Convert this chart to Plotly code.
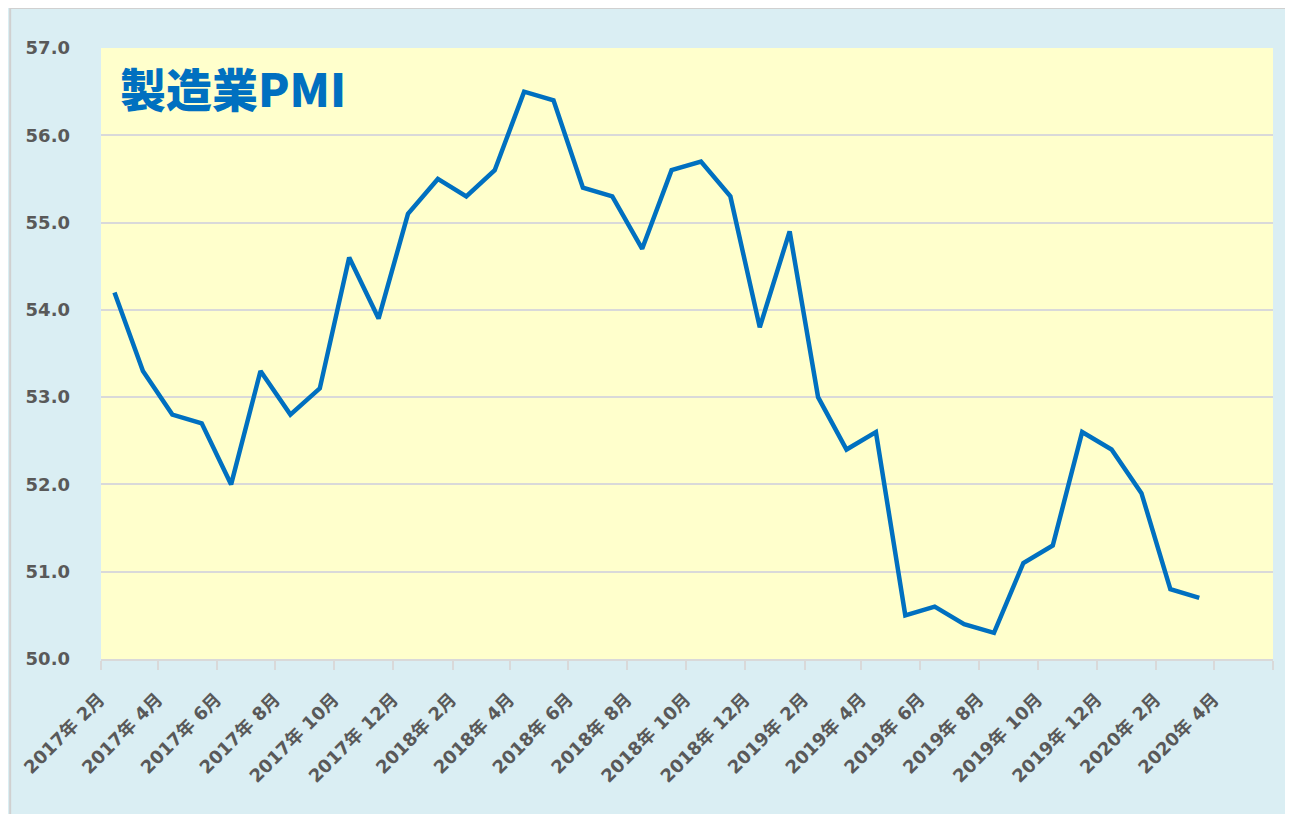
import plotly.graph_objects as go

months = [
    "2017-02", "2017-03", "2017-04", "2017-05", "2017-06", "2017-07", "2017-08",
    "2017-09", "2017-10", "2017-11", "2017-12", "2018-01", "2018-02", "2018-03",
    "2018-04", "2018-05", "2018-06", "2018-07", "2018-08", "2018-09", "2018-10",
    "2018-11", "2018-12", "2019-01", "2019-02", "2019-03", "2019-04", "2019-05",
    "2019-06", "2019-07", "2019-08", "2019-09", "2019-10", "2019-11", "2019-12",
    "2020-01", "2020-02", "2020-03",
]
pmi = [
    54.2, 53.3, 52.8, 52.7, 52.0, 53.3, 52.8,
    53.1, 54.6, 53.9, 55.1, 55.5, 55.3, 55.6,
    56.5, 56.4, 55.4, 55.3, 54.7, 55.6, 55.7,
    55.3, 53.8, 54.9, 53.0, 52.4, 52.6, 50.5,
    50.6, 50.4, 50.3, 51.1, 51.3, 52.6, 52.4,
    51.9, 50.8, 50.7,
]
title_text = "製造業PMI"

W, H = 1285, 806
L, R, T, B = 91, 20, 40, 155
pw, ph = W - L - R, H - T - B

fig = go.Figure()
fig.add_trace(go.Scatter(
    x=months, y=pmi, mode="lines",
    xperiod="M1", xperiodalignment="middle",
    line=dict(color="#0070C0", width=4.5),
    hoverinfo="x+y",
))

gray = "#595959"
lbl_family = "DejaVu Sans, Noto Sans CJK JP, sans-serif"

fig.update_layout(
    width=W, height=H,
    margin=dict(l=L, r=R, t=T, b=B, pad=0),
    paper_bgcolor="#DAEEF3",
    plot_bgcolor="#FFFFCC",
    showlegend=False,
    font=dict(family=lbl_family, size=18, color=gray),
    shapes=[
        dict(type="rect", xref="paper", yref="paper", layer="below",
             x0=-L / pw, x1=(W - L + 5) / pw,
             y0=-(B + 5) / ph, y1=1 + T / ph,
             fillcolor="rgba(0,0,0,0)", line=dict(color="#D0D0D0", width=2)),
    ],
    annotations=[
        dict(text=title_text, xref="paper", yref="paper",
             x=(116 - 8 - L) / pw, y=1 - (52 - 8 - T) / ph, xanchor="left", yanchor="top",
             showarrow=False,
             font=dict(family="Noto Sans CJK JP, sans-serif", size=46, color="#0070C0", weight=900)),
    ],
)

fig.update_xaxes(
    type="date",
    range=["2017-02-01", "2020-06-01"],
    tick0="2017-02-01", dtick="M2",
    ticklabelmode="period",
    tickformat="%Y年 %-m月",
    tickangle=-45,
    ticklabelshift=-30,
    ticklabelstandoff=12,
    ticks="outside", ticklen=9, tickcolor="#D9D9D9", tickwidth=1.5,
    showline=True, linecolor="#D9D9D9", linewidth=1.5,
    showgrid=False, zeroline=False,
    tickfont=dict(family=lbl_family, size=18, color=gray, weight="bold"),
)
fig.update_yaxes(
    range=[50, 57], dtick=1, tick0=50,
    tickformat=".1f",
    showgrid=True, gridcolor="#D9D9D9", gridwidth=1.5,
    zeroline=False, showline=False, ticks="",
    ticklabelstandoff=30,
    tickfont=dict(family=lbl_family, size=18, color=gray, weight="bold"),
)

fig.write_html("out.html")
